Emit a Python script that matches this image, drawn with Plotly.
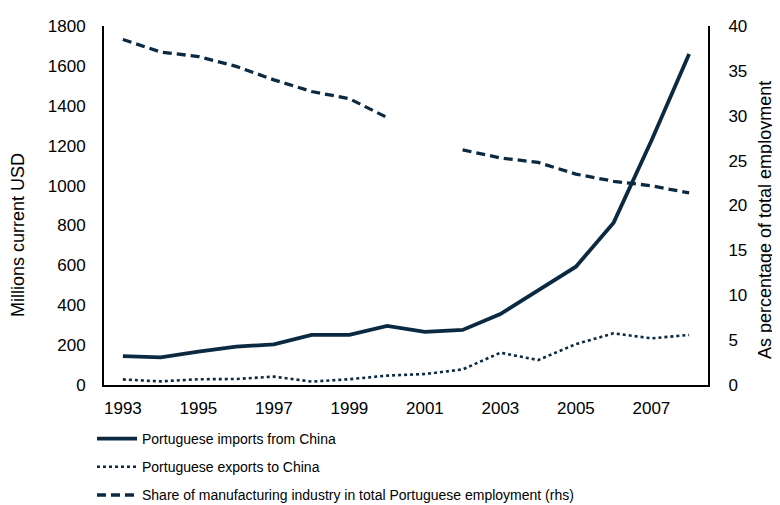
import plotly.graph_objects as go

years = list(range(1993, 2009))
imports = [145, 139, 167, 192, 204, 251, 251, 296, 266, 276, 356, 476, 593, 814, 1225, 1660]
exports = [28, 18, 29, 30, 42, 17, 29, 47, 55, 78, 162, 125, 205, 259, 234, 251]
share = [38.5, 37.1, 36.6, 35.5, 34.0, 32.7, 31.9, 29.8, None, 26.2, 25.3, 24.8, 23.5, 22.7, 22.2, 21.4]
tick_years = list(range(1993, 2008, 2))

names = [
    "Portuguese imports from China",
    "Portuguese exports to China",
    "Share of manufacturing industry in total Portuguese employment (rhs)",
]
left_title = "Millions current USD"
right_title = "As percentage of total employment"
color = "#0b2a42"
font = "Liberation Sans, Arial, sans-serif"

# page body has an 8px default margin, so the figure is sized 8px smaller
W, H = 772, 497
ML, MT, MR, MB = 96, 18, 72, 120
PW, PH = W - ML - MR, H - MT - MB

fig = go.Figure()
fig.add_trace(go.Scatter(x=years, y=imports, name=names[0], mode="lines",
                         line=dict(color=color, width=3.8), legendgroup="a"))
fig.add_trace(go.Scatter(x=years, y=exports, name=names[1], mode="lines",
                         line=dict(color=color, width=2.6, dash="dot"), legendgroup="b"))
fig.add_trace(go.Scatter(x=years, y=share, name=names[2], mode="lines", yaxis="y2",
                         line=dict(color=color, width=3.3, dash="9px,5px"),
                         connectgaps=False, legendgroup="c"))

fig.update_layout(
    width=W, height=H,
    margin=dict(l=ML, r=MR, t=MT, b=MB, autoexpand=False),
    paper_bgcolor="white", plot_bgcolor="white",
    font=dict(family=font, size=17, color="#000000"),
    showlegend=True,
    legend=dict(x=-12 / PW, y=-38 / PH, xanchor="left", yanchor="top",
                orientation="v", tracegroupgap=7, font=dict(size=14),
                itemwidth=40),
    xaxis=dict(range=[1992.5, 2008.5], tickvals=tick_years,
               ticktext=[str(y) for y in tick_years],
               showline=True, linecolor="black", linewidth=2,
               showgrid=False, zeroline=False, ticks="", ticklabelstandoff=7,
               tickfont=dict(size=17)),
    yaxis=dict(range=[0, 1800], dtick=200, showline=True, linecolor="black",
               linewidth=2, showgrid=False, zeroline=False, ticks="",
               ticklabelstandoff=13, tickfont=dict(size=17)),
    yaxis2=dict(range=[0, 40], dtick=5, overlaying="y", side="right",
                showline=True, linecolor="black", linewidth=2, showgrid=False,
                zeroline=False, ticks="", ticklabelstandoff=15,
                tickfont=dict(size=17)),
    annotations=[
        dict(text=left_title, textangle=-90, xref="paper", yref="paper",
             x=(10 - ML) / PW, y=(H - MB - 227) / PH, xanchor="center", yanchor="middle",
             showarrow=False, font=dict(size=18)),
        dict(text=right_title, textangle=-90, xref="paper", yref="paper",
             x=(757 - ML) / PW, y=(H - MB - 212) / PH, xanchor="center", yanchor="middle",
             showarrow=False, font=dict(size=18)),
    ],
)

fig.write_html("out.html")
